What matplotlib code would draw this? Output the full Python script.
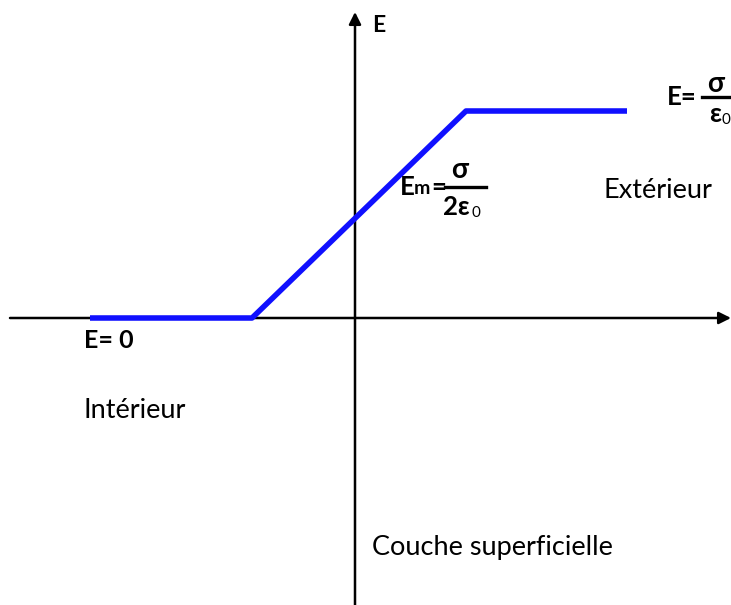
import matplotlib
matplotlib.use("Agg")
import matplotlib.pyplot as plt

# profile of the field across the surface layer (schematic units)
x_pts = [-265, -103, 111, 272]
E_pts = [0, 0, 207, 207]

FONT = "Lato"
BLUE = "#1010ff"

fig = plt.figure(figsize=(7.31, 6.05), dpi=100)
ax = fig.add_axes([0, 0, 1, 1])
ax.set_xlim(-355, 376)
ax.set_ylim(-287, 318)
ax.axis("off")

# axes with arrows
ax.annotate("", xy=(376, 0), xytext=(-345, 0),
            arrowprops=dict(arrowstyle="-|>", color="black", lw=1.8,
                            mutation_scale=18, shrinkA=0, shrinkB=0))
ax.annotate("", xy=(0, 306), xytext=(0, -287),
            arrowprops=dict(arrowstyle="-|>", color="black", lw=1.8,
                            mutation_scale=18, shrinkA=0, shrinkB=0))

ax.plot(x_pts, E_pts, color=BLUE, lw=4, solid_capstyle="butt", zorder=3)

bold = dict(family=FONT, fontweight="bold", color="black")
reg = dict(family=FONT, color="black")

ax.text(17, 292, "E", fontsize=16.5, ha="left", va="center", **bold)
ax.text(-271, -23, "E= 0", fontsize=18, ha="left", va="center", **bold)
ax.text(-271, -92, "Intérieur", fontsize=19.5, ha="left", va="center", **reg)
ax.text(248, 128, "Extérieur", fontsize=19.5, ha="left", va="center", **reg)
ax.text(17, -229, "Couche superficielle", fontsize=19.5, ha="left", va="center", **reg)

# E = sigma / eps0 (outside)
ax.text(312, 221, "E=", fontsize=18.5, ha="left", va="center", **bold)
ax.plot([347, 376], [221, 221], color="black", lw=2.4)
ax.text(361, 234, "σ", fontsize=20, ha="center", va="center", **bold)
ax.text(366, 204, "ε", fontsize=19, ha="right", va="center", **bold)
ax.text(366, 198, "0", fontsize=11, ha="left", va="center", **reg)

# Em = sigma / 2 eps0
ax.text(45, 131, "E", fontsize=18.5, ha="left", va="center", **bold)
ax.text(59, 129, "m", fontsize=14, ha="left", va="center", **bold)
ax.text(76, 131, "=", fontsize=18.5, ha="left", va="center", **bold)
ax.plot([90, 131], [131, 131], color="black", lw=2.4)
ax.text(105, 148, "σ", fontsize=20, ha="center", va="center", **bold)
ax.text(115, 111, "2ε", fontsize=18.5, ha="right", va="center", **bold)
ax.text(116, 105, "0", fontsize=11, ha="left", va="center", **reg)

fig.savefig("out.png", dpi=100)
